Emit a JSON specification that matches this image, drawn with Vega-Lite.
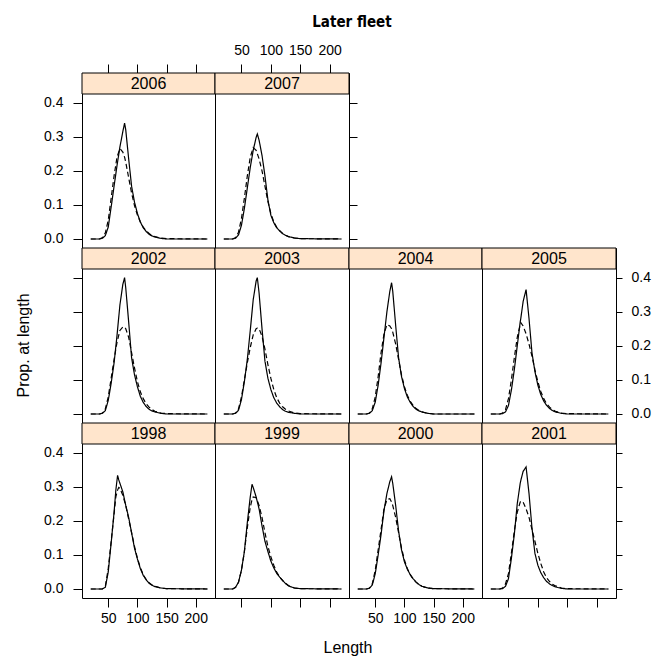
{
"$schema":"https://vega.github.io/schema/vega-lite/v6.json",
"padding":{"left":15,"top":14,"right":2,"bottom":2},
"title":{"text":"Later fleet","font":"DejaVu Sans Condensed, Liberation Sans, sans-serif","fontSize":15,"fontWeight":"bold","color":"black","anchor":"middle","offset":13,"dx":19},
"datasets":{
"yrs":[{"yr":1998},{"yr":1999},{"yr":2000},{"yr":2001},{"yr":2002},{"yr":2003},{"yr":2004},{"yr":2005},{"yr":2006},{"yr":2007}],
"d":[
{"yr":2006,"L":20,"o":0,"f":0},{"yr":2006,"L":35,"o":0,"f":0},{"yr":2006,"L":40,"o":0.002,"f":0.004},{"yr":2006,"L":45,"o":0.01,"f":0.018},{"yr":2006,"L":50,"o":0.035,"f":0.055},{"yr":2006,"L":55,"o":0.094,"f":0.12},{"yr":2006,"L":60,"o":0.155,"f":0.185},{"yr":2006,"L":65,"o":0.215,"f":0.24},{"yr":2006,"L":70,"o":0.27,"f":0.265},{"yr":2006,"L":75,"o":0.315,"f":0.255},{"yr":2006,"L":78,"o":0.34,"f":0.24},{"yr":2006,"L":80,"o":0.32,"f":0.225},{"yr":2006,"L":85,"o":0.235,"f":0.18},{"yr":2006,"L":90,"o":0.155,"f":0.135},{"yr":2006,"L":95,"o":0.108,"f":0.098},{"yr":2006,"L":100,"o":0.075,"f":0.07},{"yr":2006,"L":105,"o":0.05,"f":0.05},{"yr":2006,"L":110,"o":0.033,"f":0.035},{"yr":2006,"L":115,"o":0.022,"f":0.024},{"yr":2006,"L":120,"o":0.014,"f":0.016},{"yr":2006,"L":125,"o":0.009,"f":0.01},{"yr":2006,"L":130,"o":0.006,"f":0.007},{"yr":2006,"L":140,"o":0.002,"f":0.003},{"yr":2006,"L":150,"o":0,"f":0.001},{"yr":2006,"L":220,"o":0,"f":0},
{"yr":2007,"L":20,"o":0,"f":0},{"yr":2007,"L":35,"o":0,"f":0},{"yr":2007,"L":40,"o":0.002,"f":0.004},{"yr":2007,"L":45,"o":0.012,"f":0.02},{"yr":2007,"L":50,"o":0.04,"f":0.06},{"yr":2007,"L":55,"o":0.09,"f":0.12},{"yr":2007,"L":60,"o":0.15,"f":0.185},{"yr":2007,"L":65,"o":0.21,"f":0.24},{"yr":2007,"L":70,"o":0.26,"f":0.268},{"yr":2007,"L":75,"o":0.298,"f":0.26},{"yr":2007,"L":77,"o":0.308,"f":0.25},{"yr":2007,"L":80,"o":0.29,"f":0.235},{"yr":2007,"L":85,"o":0.245,"f":0.2},{"yr":2007,"L":90,"o":0.185,"f":0.155},{"yr":2007,"L":95,"o":0.115,"f":0.11},{"yr":2007,"L":100,"o":0.07,"f":0.075},{"yr":2007,"L":105,"o":0.048,"f":0.05},{"yr":2007,"L":110,"o":0.033,"f":0.034},{"yr":2007,"L":115,"o":0.024,"f":0.024},{"yr":2007,"L":120,"o":0.016,"f":0.016},{"yr":2007,"L":125,"o":0.011,"f":0.011},{"yr":2007,"L":130,"o":0.007,"f":0.007},{"yr":2007,"L":140,"o":0.003,"f":0.003},{"yr":2007,"L":150,"o":0.001,"f":0.001},{"yr":2007,"L":220,"o":0,"f":0},
{"yr":2002,"L":20,"o":0,"f":0},{"yr":2002,"L":35,"o":0,"f":0},{"yr":2002,"L":40,"o":0.002,"f":0.003},{"yr":2002,"L":45,"o":0.01,"f":0.015},{"yr":2002,"L":50,"o":0.04,"f":0.05},{"yr":2002,"L":55,"o":0.09,"f":0.105},{"yr":2002,"L":60,"o":0.15,"f":0.16},{"yr":2002,"L":65,"o":0.23,"f":0.21},{"yr":2002,"L":70,"o":0.32,"f":0.245},{"yr":2002,"L":75,"o":0.38,"f":0.255},{"yr":2002,"L":78,"o":0.4,"f":0.255},{"yr":2002,"L":80,"o":0.37,"f":0.25},{"yr":2002,"L":85,"o":0.27,"f":0.225},{"yr":2002,"L":90,"o":0.165,"f":0.18},{"yr":2002,"L":95,"o":0.115,"f":0.135},{"yr":2002,"L":100,"o":0.08,"f":0.095},{"yr":2002,"L":105,"o":0.052,"f":0.065},{"yr":2002,"L":110,"o":0.034,"f":0.045},{"yr":2002,"L":115,"o":0.022,"f":0.03},{"yr":2002,"L":120,"o":0.014,"f":0.02},{"yr":2002,"L":125,"o":0.009,"f":0.013},{"yr":2002,"L":130,"o":0.006,"f":0.008},{"yr":2002,"L":140,"o":0.002,"f":0.003},{"yr":2002,"L":150,"o":0,"f":0.001},{"yr":2002,"L":220,"o":0,"f":0},
{"yr":2003,"L":20,"o":0,"f":0},{"yr":2003,"L":35,"o":0,"f":0},{"yr":2003,"L":40,"o":0.002,"f":0.003},{"yr":2003,"L":45,"o":0.011,"f":0.015},{"yr":2003,"L":50,"o":0.042,"f":0.05},{"yr":2003,"L":55,"o":0.095,"f":0.1},{"yr":2003,"L":60,"o":0.16,"f":0.15},{"yr":2003,"L":65,"o":0.245,"f":0.195},{"yr":2003,"L":70,"o":0.335,"f":0.232},{"yr":2003,"L":75,"o":0.39,"f":0.25},{"yr":2003,"L":77,"o":0.4,"f":0.252},{"yr":2003,"L":80,"o":0.355,"f":0.25},{"yr":2003,"L":85,"o":0.25,"f":0.228},{"yr":2003,"L":90,"o":0.155,"f":0.19},{"yr":2003,"L":95,"o":0.105,"f":0.145},{"yr":2003,"L":100,"o":0.072,"f":0.105},{"yr":2003,"L":105,"o":0.048,"f":0.072},{"yr":2003,"L":110,"o":0.032,"f":0.048},{"yr":2003,"L":115,"o":0.021,"f":0.032},{"yr":2003,"L":120,"o":0.013,"f":0.021},{"yr":2003,"L":125,"o":0.008,"f":0.014},{"yr":2003,"L":130,"o":0.005,"f":0.009},{"yr":2003,"L":140,"o":0.002,"f":0.003},{"yr":2003,"L":150,"o":0,"f":0.001},{"yr":2003,"L":220,"o":0,"f":0},
{"yr":2004,"L":20,"o":0,"f":0},{"yr":2004,"L":35,"o":0,"f":0},{"yr":2004,"L":40,"o":0.002,"f":0.003},{"yr":2004,"L":45,"o":0.01,"f":0.016},{"yr":2004,"L":50,"o":0.035,"f":0.05},{"yr":2004,"L":55,"o":0.085,"f":0.11},{"yr":2004,"L":60,"o":0.15,"f":0.18},{"yr":2004,"L":65,"o":0.225,"f":0.235},{"yr":2004,"L":70,"o":0.3,"f":0.262},{"yr":2004,"L":75,"o":0.36,"f":0.258},{"yr":2004,"L":78,"o":0.385,"f":0.25},{"yr":2004,"L":80,"o":0.36,"f":0.24},{"yr":2004,"L":85,"o":0.26,"f":0.205},{"yr":2004,"L":90,"o":0.165,"f":0.16},{"yr":2004,"L":95,"o":0.11,"f":0.115},{"yr":2004,"L":100,"o":0.075,"f":0.08},{"yr":2004,"L":105,"o":0.05,"f":0.055},{"yr":2004,"L":110,"o":0.034,"f":0.037},{"yr":2004,"L":115,"o":0.022,"f":0.025},{"yr":2004,"L":120,"o":0.014,"f":0.016},{"yr":2004,"L":125,"o":0.009,"f":0.01},{"yr":2004,"L":130,"o":0.006,"f":0.006},{"yr":2004,"L":140,"o":0.002,"f":0.002},{"yr":2004,"L":150,"o":0,"f":0},{"yr":2004,"L":220,"o":0,"f":0},
{"yr":2005,"L":20,"o":0,"f":0},{"yr":2005,"L":35,"o":0,"f":0},{"yr":2005,"L":40,"o":0.001,"f":0.003},{"yr":2005,"L":45,"o":0.006,"f":0.013},{"yr":2005,"L":50,"o":0.025,"f":0.045},{"yr":2005,"L":55,"o":0.07,"f":0.1},{"yr":2005,"L":60,"o":0.13,"f":0.165},{"yr":2005,"L":65,"o":0.2,"f":0.225},{"yr":2005,"L":70,"o":0.27,"f":0.262},{"yr":2005,"L":71,"o":0.28,"f":0.268},{"yr":2005,"L":75,"o":0.33,"f":0.258},{"yr":2005,"L":80,"o":0.365,"f":0.235},{"yr":2005,"L":85,"o":0.28,"f":0.205},{"yr":2005,"L":90,"o":0.18,"f":0.17},{"yr":2005,"L":95,"o":0.125,"f":0.13},{"yr":2005,"L":100,"o":0.085,"f":0.095},{"yr":2005,"L":105,"o":0.057,"f":0.066},{"yr":2005,"L":110,"o":0.038,"f":0.045},{"yr":2005,"L":115,"o":0.025,"f":0.03},{"yr":2005,"L":120,"o":0.016,"f":0.02},{"yr":2005,"L":125,"o":0.01,"f":0.013},{"yr":2005,"L":130,"o":0.006,"f":0.008},{"yr":2005,"L":140,"o":0.002,"f":0.003},{"yr":2005,"L":150,"o":0,"f":0.001},{"yr":2005,"L":220,"o":0,"f":0},
{"yr":1998,"L":20,"o":0,"f":0},{"yr":1998,"L":35,"o":0,"f":0},{"yr":1998,"L":40,"o":0,"f":0},{"yr":1998,"L":45,"o":0.005,"f":0.008},{"yr":1998,"L":50,"o":0.05,"f":0.06},{"yr":1998,"L":55,"o":0.135,"f":0.14},{"yr":1998,"L":60,"o":0.225,"f":0.22},{"yr":1998,"L":63,"o":0.29,"f":0.27},{"yr":1998,"L":66,"o":0.333,"f":0.29},{"yr":1998,"L":68,"o":0.32,"f":0.298},{"yr":1998,"L":70,"o":0.31,"f":0.295},{"yr":1998,"L":75,"o":0.285,"f":0.275},{"yr":1998,"L":80,"o":0.245,"f":0.245},{"yr":1998,"L":85,"o":0.21,"f":0.205},{"yr":1998,"L":90,"o":0.165,"f":0.165},{"yr":1998,"L":95,"o":0.12,"f":0.125},{"yr":1998,"L":100,"o":0.088,"f":0.09},{"yr":1998,"L":105,"o":0.06,"f":0.063},{"yr":1998,"L":110,"o":0.04,"f":0.042},{"yr":1998,"L":115,"o":0.027,"f":0.028},{"yr":1998,"L":120,"o":0.017,"f":0.018},{"yr":1998,"L":125,"o":0.011,"f":0.012},{"yr":1998,"L":130,"o":0.007,"f":0.008},{"yr":1998,"L":140,"o":0.003,"f":0.003},{"yr":1998,"L":150,"o":0.001,"f":0.001},{"yr":1998,"L":220,"o":0,"f":0},
{"yr":1999,"L":20,"o":0,"f":0},{"yr":1999,"L":35,"o":0,"f":0},{"yr":1999,"L":40,"o":0.005,"f":0.005},{"yr":1999,"L":45,"o":0.02,"f":0.02},{"yr":1999,"L":50,"o":0.055,"f":0.055},{"yr":1999,"L":55,"o":0.11,"f":0.11},{"yr":1999,"L":60,"o":0.195,"f":0.18},{"yr":1999,"L":65,"o":0.27,"f":0.24},{"yr":1999,"L":68,"o":0.307,"f":0.262},{"yr":1999,"L":70,"o":0.298,"f":0.27},{"yr":1999,"L":75,"o":0.27,"f":0.268},{"yr":1999,"L":80,"o":0.235,"f":0.245},{"yr":1999,"L":85,"o":0.185,"f":0.21},{"yr":1999,"L":90,"o":0.14,"f":0.165},{"yr":1999,"L":95,"o":0.11,"f":0.125},{"yr":1999,"L":100,"o":0.082,"f":0.095},{"yr":1999,"L":105,"o":0.062,"f":0.07},{"yr":1999,"L":110,"o":0.046,"f":0.05},{"yr":1999,"L":115,"o":0.035,"f":0.035},{"yr":1999,"L":120,"o":0.025,"f":0.025},{"yr":1999,"L":125,"o":0.016,"f":0.017},{"yr":1999,"L":130,"o":0.009,"f":0.01},{"yr":1999,"L":140,"o":0.003,"f":0.003},{"yr":1999,"L":150,"o":0.001,"f":0.001},{"yr":1999,"L":220,"o":0,"f":0},
{"yr":2000,"L":20,"o":0,"f":0},{"yr":2000,"L":35,"o":0,"f":0},{"yr":2000,"L":40,"o":0.002,"f":0.003},{"yr":2000,"L":45,"o":0.012,"f":0.016},{"yr":2000,"L":50,"o":0.045,"f":0.055},{"yr":2000,"L":55,"o":0.1,"f":0.115},{"yr":2000,"L":60,"o":0.16,"f":0.175},{"yr":2000,"L":65,"o":0.23,"f":0.235},{"yr":2000,"L":70,"o":0.28,"f":0.262},{"yr":2000,"L":75,"o":0.315,"f":0.265},{"yr":2000,"L":78,"o":0.329,"f":0.255},{"yr":2000,"L":80,"o":0.31,"f":0.245},{"yr":2000,"L":85,"o":0.245,"f":0.21},{"yr":2000,"L":90,"o":0.17,"f":0.165},{"yr":2000,"L":95,"o":0.115,"f":0.12},{"yr":2000,"L":100,"o":0.08,"f":0.085},{"yr":2000,"L":105,"o":0.058,"f":0.06},{"yr":2000,"L":110,"o":0.042,"f":0.042},{"yr":2000,"L":115,"o":0.03,"f":0.029},{"yr":2000,"L":120,"o":0.02,"f":0.02},{"yr":2000,"L":125,"o":0.013,"f":0.013},{"yr":2000,"L":130,"o":0.008,"f":0.008},{"yr":2000,"L":140,"o":0.003,"f":0.003},{"yr":2000,"L":150,"o":0.001,"f":0.001},{"yr":2000,"L":220,"o":0,"f":0},
{"yr":2001,"L":20,"o":0,"f":0},{"yr":2001,"L":35,"o":0,"f":0},{"yr":2001,"L":40,"o":0.001,"f":0.003},{"yr":2001,"L":45,"o":0.008,"f":0.015},{"yr":2001,"L":50,"o":0.03,"f":0.045},{"yr":2001,"L":55,"o":0.09,"f":0.105},{"yr":2001,"L":60,"o":0.16,"f":0.17},{"yr":2001,"L":65,"o":0.25,"f":0.225},{"yr":2001,"L":70,"o":0.31,"f":0.255},{"yr":2001,"L":72,"o":0.325,"f":0.258},{"yr":2001,"L":75,"o":0.345,"f":0.255},{"yr":2001,"L":80,"o":0.358,"f":0.235},{"yr":2001,"L":85,"o":0.28,"f":0.21},{"yr":2001,"L":90,"o":0.18,"f":0.175},{"yr":2001,"L":95,"o":0.105,"f":0.14},{"yr":2001,"L":100,"o":0.07,"f":0.105},{"yr":2001,"L":105,"o":0.048,"f":0.075},{"yr":2001,"L":110,"o":0.033,"f":0.05},{"yr":2001,"L":115,"o":0.022,"f":0.033},{"yr":2001,"L":120,"o":0.015,"f":0.022},{"yr":2001,"L":125,"o":0.01,"f":0.014},{"yr":2001,"L":130,"o":0.006,"f":0.009},{"yr":2001,"L":140,"o":0.002,"f":0.003},{"yr":2001,"L":150,"o":0,"f":0.001},{"yr":2001,"L":220,"o":0,"f":0}
]},
"vconcat":[{
"title":{"text":"Length","orient":"bottom","anchor":"middle","fontSize":16,"fontWeight":"normal","font":"Liberation Sans","color":"black","offset":14,"dx":15},
"columns":4,"spacing":0,"bounds":"flush",
"concat":[
{"width":133,"height":175,"layer":[
 {"data":{"name":"d"},"transform":[{"filter":"datum.yr == 2006"},{"fold":["o","f"],"as":["s","p"]}],"mark":{"type":"line","color":"black","strokeWidth":1.2},
  "encoding":{"x":{"field":"L","type":"quantitative","scale":{"domain":[5,233],"nice":false,"zero":false},"axis":{"orient":"top","values":[50,100,150,200],"labels":false,"tickSize":9,"title":null}},
  "y":{"field":"p","type":"quantitative","scale":{"domain":[-0.0264,0.4868],"nice":false,"zero":false},"axis":{"orient":"left","values":[0,0.1,0.2,0.3,0.4],"format":".1f","tickSize":9,"labelPadding":10,"title":null}},
  "strokeDash":{"field":"s","type":"nominal","scale":{"domain":["o","f"],"range":[[1,0],[5,3]]},"legend":null}}},
 {"data":{"name":"yrs"},"transform":[{"filter":"datum.yr == 2006"}],"mark":{"type":"rect","fill":"#ffe5cc","stroke":"black","strokeWidth":1},"encoding":{"x":{"datum":5,"type":"quantitative"},"x2":{"datum":233},"y":{"datum":0.4252,"type":"quantitative"},"y2":{"datum":0.4868}}},
 {"data":{"name":"yrs"},"transform":[{"filter":"datum.yr == 2006"}],"mark":{"type":"text","fontSize":16,"color":"black","baseline":"middle"},"encoding":{"x":{"datum":119,"type":"quantitative"},"y":{"datum":0.456,"type":"quantitative"},"text":{"field":"yr","type":"nominal"}}}]},
{"width":134,"height":175,"layer":[
 {"data":{"name":"d"},"transform":[{"filter":"datum.yr == 2007"},{"fold":["o","f"],"as":["s","p"]}],"mark":{"type":"line","color":"black","strokeWidth":1.2},
  "encoding":{"x":{"field":"L","type":"quantitative","scale":{"domain":[5,233],"nice":false,"zero":false},"axis":{"orient":"top","values":[50,100,150,200],"tickSize":9,"labelPadding":7,"title":null}},
  "y":{"field":"p","type":"quantitative","scale":{"domain":[-0.0264,0.4868],"nice":false,"zero":false},"axis":{"orient":"right","values":[0,0.1,0.2,0.3,0.4],"labels":false,"tickSize":8,"title":null}},
  "strokeDash":{"field":"s","type":"nominal","scale":{"domain":["o","f"],"range":[[1,0],[5,3]]},"legend":null}}},
 {"data":{"name":"yrs"},"transform":[{"filter":"datum.yr == 2007"}],"mark":{"type":"rect","fill":"#ffe5cc","stroke":"black","strokeWidth":1},"encoding":{"x":{"datum":5,"type":"quantitative"},"x2":{"datum":233},"y":{"datum":0.4252,"type":"quantitative"},"y2":{"datum":0.4868}}},
 {"data":{"name":"yrs"},"transform":[{"filter":"datum.yr == 2007"}],"mark":{"type":"text","fontSize":16,"color":"black","baseline":"middle"},"encoding":{"x":{"datum":119,"type":"quantitative"},"y":{"datum":0.456,"type":"quantitative"},"text":{"field":"yr","type":"nominal"}}}]},
{"width":133,"height":175,"data":{"values":[{}]},"mark":{"type":"point","opacity":0},"view":{"stroke":null}},
{"width":134,"height":175,"data":{"values":[{}]},"mark":{"type":"point","opacity":0},"view":{"stroke":null}},
{"width":133,"height":175,"layer":[
 {"data":{"name":"d"},"transform":[{"filter":"datum.yr == 2002"},{"fold":["o","f"],"as":["s","p"]}],"mark":{"type":"line","color":"black","strokeWidth":1.2},
  "encoding":{"x":{"field":"L","type":"quantitative","scale":{"domain":[5,233],"nice":false,"zero":false},"axis":null},
  "y":{"field":"p","type":"quantitative","scale":{"domain":[-0.0264,0.4868],"nice":false,"zero":false},"axis":{"orient":"left","values":[0,0.1,0.2,0.3,0.4],"labels":false,"tickSize":9,"title":"Prop. at length","titlePadding":41,"titleY":97}},
  "strokeDash":{"field":"s","type":"nominal","scale":{"domain":["o","f"],"range":[[1,0],[5,3]]},"legend":null}}},
 {"data":{"name":"yrs"},"transform":[{"filter":"datum.yr == 2002"}],"mark":{"type":"rect","fill":"#ffe5cc","stroke":"black","strokeWidth":1},"encoding":{"x":{"datum":5,"type":"quantitative"},"x2":{"datum":233},"y":{"datum":0.4252,"type":"quantitative"},"y2":{"datum":0.4868}}},
 {"data":{"name":"yrs"},"transform":[{"filter":"datum.yr == 2002"}],"mark":{"type":"text","fontSize":16,"color":"black","baseline":"middle"},"encoding":{"x":{"datum":119,"type":"quantitative"},"y":{"datum":0.456,"type":"quantitative"},"text":{"field":"yr","type":"nominal"}}}]},
{"width":134,"height":175,"layer":[
 {"data":{"name":"d"},"transform":[{"filter":"datum.yr == 2003"},{"fold":["o","f"],"as":["s","p"]}],"mark":{"type":"line","color":"black","strokeWidth":1.2},
  "encoding":{"x":{"field":"L","type":"quantitative","scale":{"domain":[5,233],"nice":false,"zero":false},"axis":null},
  "y":{"field":"p","type":"quantitative","scale":{"domain":[-0.0264,0.4868],"nice":false,"zero":false},"axis":null},
  "strokeDash":{"field":"s","type":"nominal","scale":{"domain":["o","f"],"range":[[1,0],[5,3]]},"legend":null}}},
 {"data":{"name":"yrs"},"transform":[{"filter":"datum.yr == 2003"}],"mark":{"type":"rect","fill":"#ffe5cc","stroke":"black","strokeWidth":1},"encoding":{"x":{"datum":5,"type":"quantitative"},"x2":{"datum":233},"y":{"datum":0.4252,"type":"quantitative"},"y2":{"datum":0.4868}}},
 {"data":{"name":"yrs"},"transform":[{"filter":"datum.yr == 2003"}],"mark":{"type":"text","fontSize":16,"color":"black","baseline":"middle"},"encoding":{"x":{"datum":119,"type":"quantitative"},"y":{"datum":0.456,"type":"quantitative"},"text":{"field":"yr","type":"nominal"}}}]},
{"width":133,"height":175,"layer":[
 {"data":{"name":"d"},"transform":[{"filter":"datum.yr == 2004"},{"fold":["o","f"],"as":["s","p"]}],"mark":{"type":"line","color":"black","strokeWidth":1.2},
  "encoding":{"x":{"field":"L","type":"quantitative","scale":{"domain":[5,233],"nice":false,"zero":false},"axis":null},
  "y":{"field":"p","type":"quantitative","scale":{"domain":[-0.0264,0.4868],"nice":false,"zero":false},"axis":null},
  "strokeDash":{"field":"s","type":"nominal","scale":{"domain":["o","f"],"range":[[1,0],[5,3]]},"legend":null}}},
 {"data":{"name":"yrs"},"transform":[{"filter":"datum.yr == 2004"}],"mark":{"type":"rect","fill":"#ffe5cc","stroke":"black","strokeWidth":1},"encoding":{"x":{"datum":5,"type":"quantitative"},"x2":{"datum":233},"y":{"datum":0.4252,"type":"quantitative"},"y2":{"datum":0.4868}}},
 {"data":{"name":"yrs"},"transform":[{"filter":"datum.yr == 2004"}],"mark":{"type":"text","fontSize":16,"color":"black","baseline":"middle"},"encoding":{"x":{"datum":119,"type":"quantitative"},"y":{"datum":0.456,"type":"quantitative"},"text":{"field":"yr","type":"nominal"}}}]},
{"width":134,"height":175,"layer":[
 {"data":{"name":"d"},"transform":[{"filter":"datum.yr == 2005"},{"fold":["o","f"],"as":["s","p"]}],"mark":{"type":"line","color":"black","strokeWidth":1.2},
  "encoding":{"x":{"field":"L","type":"quantitative","scale":{"domain":[5,233],"nice":false,"zero":false},"axis":null},
  "y":{"field":"p","type":"quantitative","scale":{"domain":[-0.0264,0.4868],"nice":false,"zero":false},"axis":{"orient":"right","values":[0,0.1,0.2,0.3,0.4],"format":".1f","tickSize":6,"labelPadding":9,"title":null}},
  "strokeDash":{"field":"s","type":"nominal","scale":{"domain":["o","f"],"range":[[1,0],[5,3]]},"legend":null}}},
 {"data":{"name":"yrs"},"transform":[{"filter":"datum.yr == 2005"}],"mark":{"type":"rect","fill":"#ffe5cc","stroke":"black","strokeWidth":1},"encoding":{"x":{"datum":5,"type":"quantitative"},"x2":{"datum":233},"y":{"datum":0.4252,"type":"quantitative"},"y2":{"datum":0.4868}}},
 {"data":{"name":"yrs"},"transform":[{"filter":"datum.yr == 2005"}],"mark":{"type":"text","fontSize":16,"color":"black","baseline":"middle"},"encoding":{"x":{"datum":119,"type":"quantitative"},"y":{"datum":0.456,"type":"quantitative"},"text":{"field":"yr","type":"nominal"}}}]},
{"width":133,"height":175,"layer":[
 {"data":{"name":"d"},"transform":[{"filter":"datum.yr == 1998"},{"fold":["o","f"],"as":["s","p"]}],"mark":{"type":"line","color":"black","strokeWidth":1.2},
  "encoding":{"x":{"field":"L","type":"quantitative","scale":{"domain":[5,233],"nice":false,"zero":false},"axis":{"orient":"bottom","values":[50,100,150,200],"tickSize":9,"labelPadding":4,"title":null}},
  "y":{"field":"p","type":"quantitative","scale":{"domain":[-0.0264,0.4868],"nice":false,"zero":false},"axis":{"orient":"left","values":[0,0.1,0.2,0.3,0.4],"format":".1f","tickSize":9,"labelPadding":10,"title":null}},
  "strokeDash":{"field":"s","type":"nominal","scale":{"domain":["o","f"],"range":[[1,0],[5,3]]},"legend":null}}},
 {"data":{"name":"yrs"},"transform":[{"filter":"datum.yr == 1998"}],"mark":{"type":"rect","fill":"#ffe5cc","stroke":"black","strokeWidth":1},"encoding":{"x":{"datum":5,"type":"quantitative"},"x2":{"datum":233},"y":{"datum":0.4252,"type":"quantitative"},"y2":{"datum":0.4868}}},
 {"data":{"name":"yrs"},"transform":[{"filter":"datum.yr == 1998"}],"mark":{"type":"text","fontSize":16,"color":"black","baseline":"middle"},"encoding":{"x":{"datum":119,"type":"quantitative"},"y":{"datum":0.456,"type":"quantitative"},"text":{"field":"yr","type":"nominal"}}}]},
{"width":134,"height":175,"layer":[
 {"data":{"name":"d"},"transform":[{"filter":"datum.yr == 1999"},{"fold":["o","f"],"as":["s","p"]}],"mark":{"type":"line","color":"black","strokeWidth":1.2},
  "encoding":{"x":{"field":"L","type":"quantitative","scale":{"domain":[5,233],"nice":false,"zero":false},"axis":{"orient":"bottom","values":[50,100,150,200],"labels":false,"tickSize":9,"title":null}},
  "y":{"field":"p","type":"quantitative","scale":{"domain":[-0.0264,0.4868],"nice":false,"zero":false},"axis":null},
  "strokeDash":{"field":"s","type":"nominal","scale":{"domain":["o","f"],"range":[[1,0],[5,3]]},"legend":null}}},
 {"data":{"name":"yrs"},"transform":[{"filter":"datum.yr == 1999"}],"mark":{"type":"rect","fill":"#ffe5cc","stroke":"black","strokeWidth":1},"encoding":{"x":{"datum":5,"type":"quantitative"},"x2":{"datum":233},"y":{"datum":0.4252,"type":"quantitative"},"y2":{"datum":0.4868}}},
 {"data":{"name":"yrs"},"transform":[{"filter":"datum.yr == 1999"}],"mark":{"type":"text","fontSize":16,"color":"black","baseline":"middle"},"encoding":{"x":{"datum":119,"type":"quantitative"},"y":{"datum":0.456,"type":"quantitative"},"text":{"field":"yr","type":"nominal"}}}]},
{"width":133,"height":175,"layer":[
 {"data":{"name":"d"},"transform":[{"filter":"datum.yr == 2000"},{"fold":["o","f"],"as":["s","p"]}],"mark":{"type":"line","color":"black","strokeWidth":1.2},
  "encoding":{"x":{"field":"L","type":"quantitative","scale":{"domain":[5,233],"nice":false,"zero":false},"axis":{"orient":"bottom","values":[50,100,150,200],"tickSize":9,"labelPadding":4,"title":null}},
  "y":{"field":"p","type":"quantitative","scale":{"domain":[-0.0264,0.4868],"nice":false,"zero":false},"axis":null},
  "strokeDash":{"field":"s","type":"nominal","scale":{"domain":["o","f"],"range":[[1,0],[5,3]]},"legend":null}}},
 {"data":{"name":"yrs"},"transform":[{"filter":"datum.yr == 2000"}],"mark":{"type":"rect","fill":"#ffe5cc","stroke":"black","strokeWidth":1},"encoding":{"x":{"datum":5,"type":"quantitative"},"x2":{"datum":233},"y":{"datum":0.4252,"type":"quantitative"},"y2":{"datum":0.4868}}},
 {"data":{"name":"yrs"},"transform":[{"filter":"datum.yr == 2000"}],"mark":{"type":"text","fontSize":16,"color":"black","baseline":"middle"},"encoding":{"x":{"datum":119,"type":"quantitative"},"y":{"datum":0.456,"type":"quantitative"},"text":{"field":"yr","type":"nominal"}}}]},
{"width":134,"height":175,"layer":[
 {"data":{"name":"d"},"transform":[{"filter":"datum.yr == 2001"},{"fold":["o","f"],"as":["s","p"]}],"mark":{"type":"line","color":"black","strokeWidth":1.2},
  "encoding":{"x":{"field":"L","type":"quantitative","scale":{"domain":[5,233],"nice":false,"zero":false},"axis":{"orient":"bottom","values":[50,100,150,200],"labels":false,"tickSize":9,"title":null}},
  "y":{"field":"p","type":"quantitative","scale":{"domain":[-0.0264,0.4868],"nice":false,"zero":false},"axis":{"orient":"right","values":[0,0.1,0.2,0.3,0.4],"labels":false,"tickSize":6,"title":null}},
  "strokeDash":{"field":"s","type":"nominal","scale":{"domain":["o","f"],"range":[[1,0],[5,3]]},"legend":null}}},
 {"data":{"name":"yrs"},"transform":[{"filter":"datum.yr == 2001"}],"mark":{"type":"rect","fill":"#ffe5cc","stroke":"black","strokeWidth":1},"encoding":{"x":{"datum":5,"type":"quantitative"},"x2":{"datum":233},"y":{"datum":0.4252,"type":"quantitative"},"y2":{"datum":0.4868}}},
 {"data":{"name":"yrs"},"transform":[{"filter":"datum.yr == 2001"}],"mark":{"type":"text","fontSize":16,"color":"black","baseline":"middle"},"encoding":{"x":{"datum":119,"type":"quantitative"},"y":{"datum":0.456,"type":"quantitative"},"text":{"field":"yr","type":"nominal"}}}]}
]}],
"config":{
 "font":"Liberation Sans",
 "view":{"stroke":"black","strokeWidth":1},
 "axis":{"domain":false,"grid":false,"tickColor":"black","tickWidth":1,"labelColor":"black","labelFontSize":14,"labelFont":"Liberation Sans","labelFlush":false,"labelOverlap":false,"labelBound":false,"minExtent":0,"maxExtent":200,"titleColor":"black","titleFontSize":16,"titleFontWeight":"normal","titleFont":"Liberation Sans"},
 "text":{"font":"Liberation Sans"}
}
}
